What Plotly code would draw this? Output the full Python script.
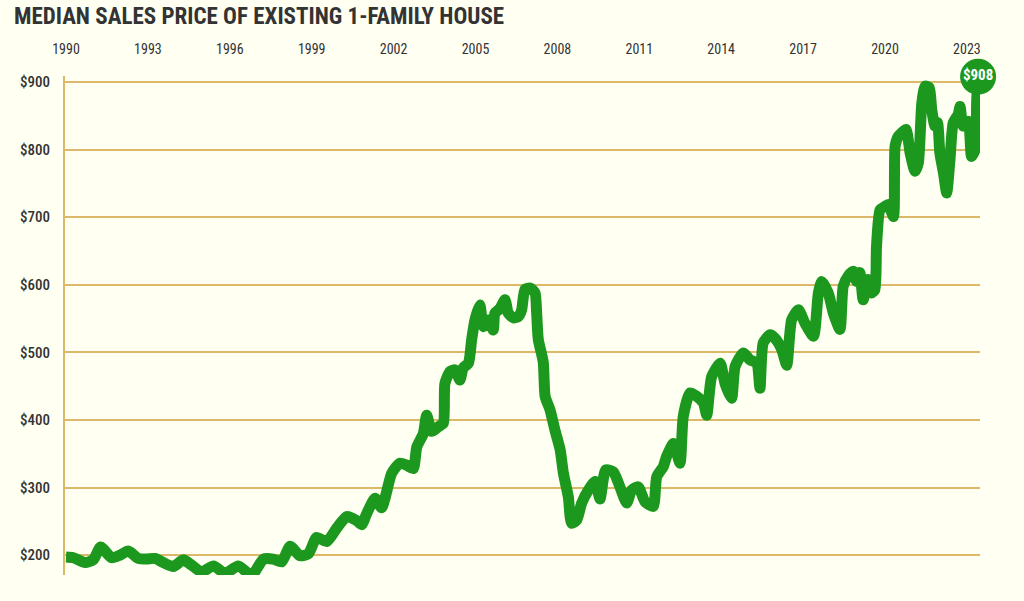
import plotly.graph_objects as go

# Median sales price of existing single-family house (thousands of $)
years = [
    1990.00, 1990.27, 1990.70, 1991.00, 1991.27, 1991.67, 1991.98, 1992.28, 1992.65, 1992.95,
    1993.26, 1993.56, 1993.93, 1994.30, 1994.60, 1994.97, 1995.40, 1995.82, 1996.31, 1996.80,
    1997.23, 1997.59, 1997.90, 1998.21, 1998.57, 1998.88, 1999.18, 1999.55, 1999.92, 2000.28,
    2000.65, 2000.83, 2001.01, 2001.32, 2001.56, 2001.93, 2002.23, 2002.48, 2002.72, 2002.85,
    2003.09, 2003.21, 2003.40, 2003.64, 2003.82, 2003.88, 2004.07, 2004.25, 2004.43, 2004.55,
    2004.74, 2004.86, 2004.98, 2005.16, 2005.29, 2005.47, 2005.65, 2005.71, 2005.90, 2006.08,
    2006.20, 2006.39, 2006.57, 2006.69, 2006.81, 2007.00, 2007.18, 2007.24, 2007.30, 2007.48,
    2007.55, 2007.73, 2007.91, 2008.10, 2008.22, 2008.40, 2008.52, 2008.71, 2008.89, 2009.13,
    2009.38, 2009.56, 2009.77, 2010.05, 2010.29, 2010.54, 2010.72, 2010.96, 2011.21, 2011.51,
    2011.64, 2011.88, 2012.00, 2012.25, 2012.49, 2012.61, 2012.86, 2013.10, 2013.35, 2013.47,
    2013.65, 2013.96, 2014.14, 2014.38, 2014.51, 2014.81, 2015.05, 2015.30, 2015.42, 2015.54,
    2015.79, 2015.97, 2016.22, 2016.40, 2016.58, 2016.83, 2017.07, 2017.38, 2017.56, 2017.68,
    2017.92, 2018.11, 2018.35, 2018.47, 2018.65, 2018.84, 2018.96, 2019.08, 2019.20, 2019.38,
    2019.51, 2019.63, 2019.69, 2019.82, 2020.00, 2020.12, 2020.31, 2020.37, 2020.49, 2020.61,
    2020.77, 2020.92, 2021.10, 2021.22, 2021.35, 2021.47, 2021.62, 2021.71, 2021.83, 2021.92,
    2022.01, 2022.14, 2022.26, 2022.38, 2022.50, 2022.68, 2022.75, 2022.86, 2023.05, 2023.17,
    2023.30, 2023.36, 2023.41,
]
prices = [
    197, 196, 189, 193, 212, 196, 200, 206, 195, 194,
    195, 189, 183, 193, 185, 175, 184, 173, 184, 170,
    194, 194, 190, 213, 199, 202, 226, 220, 240, 257,
    251, 245, 261, 284, 270, 321, 336, 333, 328, 360,
    380, 407, 383, 390, 395, 454, 472, 474, 459, 477,
    484, 519, 548, 570, 538, 548, 533, 558, 565, 578,
    558, 551, 553, 563, 593, 595, 588, 558, 519, 486,
    435, 415, 385, 356, 321, 286, 247, 252, 277, 296,
    309, 283, 326, 323, 301, 277, 296, 301, 279, 272,
    316, 331, 346, 365, 336, 405, 440, 435, 425, 407,
    464, 484, 454, 432, 479, 499, 489, 484, 447, 514,
    526, 521, 504, 481, 548, 563, 543, 524, 588, 605,
    588, 558, 534, 598, 613, 620, 605, 618, 578, 608,
    588, 593, 657, 711, 716, 719, 701, 805, 820, 825,
    830, 795, 768, 780, 869, 894, 892, 860, 835, 840,
    795, 766, 736, 785, 840, 852, 864, 835, 842, 790,
    800, 874, 908,
]

tick_years = [1990, 1993, 1996, 1999, 2002, 2005, 2008, 2011, 2014, 2017, 2020, 2023]
tick_labels = [str(y) for y in tick_years]
y_ticks = [200, 300, 400, 500, 600, 700, 800, 900]
y_labels = ["$" + str(v) for v in y_ticks]
end_label = "$" + str(prices[-1])

GREEN = "#1c981f"
GOLD = "#dcb868"
BG = "#fffff2"
TXT = "#333333"
COND = "Roboto Condensed, Liberation Sans Narrow, DejaVu Sans Condensed, Roboto, sans-serif"

fig = go.Figure()
fig.add_trace(go.Scatter(
    x=years, y=prices, mode="lines",
    line=dict(color=GREEN, width=11, shape="spline", smoothing=0.6),
    hoverinfo="skip", cliponaxis=False,
))
fig.add_trace(go.Scatter(
    x=[years[-1]], y=[prices[-1]], mode="markers+text",
    marker=dict(color=GREEN, size=36, line=dict(width=0)),
    text=[end_label], textposition="middle center",
    textfont=dict(color="white", size=15, family=COND, weight=700),
    cliponaxis=False, hoverinfo="skip",
))

fig.update_layout(
    width=1024, height=601,
    paper_bgcolor=BG, plot_bgcolor=BG,
    margin=dict(l=65, r=44, t=76, b=26),
    showlegend=False,
    title=dict(
        text="MEDIAN SALES PRICE OF EXISTING 1-FAMILY HOUSE",
        font=dict(family=COND, size=23, color=TXT, weight=700),
        xref="container", x=14 / 1024, xanchor="left",
        yref="container", y=1 - 8 / 601, yanchor="top",
    ),
    xaxis=dict(
        side="top", range=[1989.963, 2023.48],
        tickvals=tick_years, ticktext=tick_labels,
        showgrid=False, zeroline=False, showline=False, ticks="",
        tickfont=dict(family=COND, size=14, color=TXT),
        ticklabelstandoff=18,
    ),
    yaxis=dict(
        range=[170.5, 909], tickvals=y_ticks, ticktext=y_labels,
        showgrid=True, gridcolor=GOLD, gridwidth=1.5,
        zeroline=False, showline=True, linecolor=GOLD, linewidth=2,
        ticks="", tickfont=dict(family=COND, size=15, color=TXT, weight=500),
        ticklabelstandoff=10,
    ),
)

fig.write_html("out.html")
